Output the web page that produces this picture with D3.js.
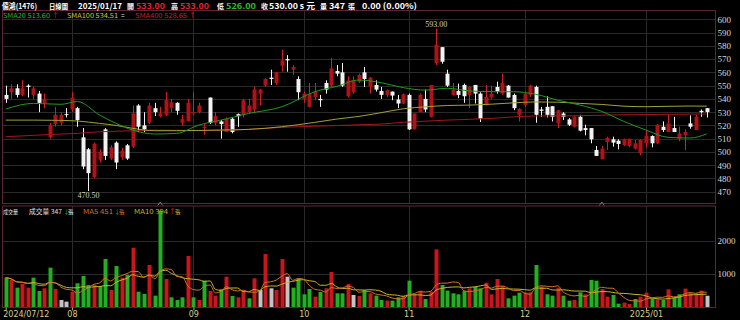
<!DOCTYPE html>
<html>
<head>
<meta charset="utf-8">
<script src="https://cdn.jsdelivr.net/npm/d3@7/dist/d3.min.js"></script>
<style>
  html, body { margin: 0; padding: 0; background: #000; }
  svg { display: block; }
  text { font-family: "Noto Sans CJK TC", "DejaVu Sans", sans-serif; }
</style>
</head>
<body>
<svg id="chart" width="740" height="320"></svg>
<script>
// daily bars, 2024/07/12 .. 2025/01/17
const opens = [543,545,548,543,550,543,544,537,511,521,522,528.5,532,533,511,502,481,494,517,495,507,496,505,504,535,520,522,533,527,528,533,537,522,523,529,530,518,541,522,523,515,525,528.5,528,530,532,544,550,556,552,565,570,562,555,540,534,541.5,540,552,550,561,560,542,545,553,560,549.5,550.5,546,543,545.5,539.5,536.5,543,517,530,540,526.5,567,579,559,543,546,550.5,543,550.5,544,535.5,541,549,544,550,543,528,535.5,543,549,532,534,534.5,521.5,529,524.5,519,526.5,518,518,501.5,494.5,507.5,509.5,508.5,505,504.5,502.5,499,506.5,512,506.5,519,515,518,510,512.5,521.5,516.5,531,533];
const highs = [550,551,551,554,551,549,546,544,522,534,530,533,545,534,518,503,507,502,518,505,508,503,506,535,536,530,537,537,534,545,540,537.5,528,540,545,537,521,541,530,524,526,526,529,540,540,549,547.5,555.5,562,560.5,577,573,565.5,557,545.5,552,552,543,554,571,565.5,567,557,557,559,564,556.5,554,549,547,545.5,543,544,544,529,544,547,550.5,593,579,562,552,551.5,551.5,549.5,550.5,545,550.5,550,553,559,550.5,544,533,545.5,550.5,550,534,542,534.5,531.5,530,525.5,527,528,520.5,518,504.5,504.5,511.5,511.5,509.5,510,510,509,509.5,516.5,512.5,521,523,528,526.5,519,517,527.5,528,532,533];
const lows = [537,540,541,542,541,540,530,533,510,519,520,526,530,519,487,470.5,480,492,494,494,487,494,494,503,515,515,521,527,526,527,530,528,520,523,528,529,513,521,520,510,515,514,519,526,529,530,535,549,550.5,550.5,560.5,560.5,558,539,537,533.5,539,534,544,549,557,549,541,544,552,549,544,545.5,540,541.5,539,533,536,516.5,517,530,530,526,565.5,566.5,549,542.5,540.5,537,533,536.5,522.5,535,540,544,543,541,531.5,523,534,541.5,522,526.5,526,523,518,524,519.5,518.5,515.5,512.5,506.5,497,494.5,501.5,504,502,504.5,503.5,502,497.5,503.5,503.5,506,515,515,515,508,501.5,517.5,516.5,526.5,526];
const closes = [540,548,543,548,549,548,537,540,520,528,528,528,541,524,489,484,506,500,497,503.5,492,501,495,529,519,517,535,530,529,539,537.5,531,525,537,530,535,519,522,527,521,525,515,527,539,535,547,547,555,555,560,569,569,564,545,544,543.5,545.5,539,547,563,559,550,554,554,558,555,556,547,543,546.5,542.5,536.5,543.5,517,529,543,532,550.5,581,568,550,547,543,542,549,544,525,541.5,544,545.5,552,541,533,532.5,544,550,528,531,528,526.5,531.5,526.5,520.5,526.5,516,516.5,509.5,497,502.5,510.5,507,506,509.5,510,506.5,509,512,506.5,520.5,516.5,521.5,515,514,515,519,526.5,530,530];
const volumes = [890,820,590,700,590,890,490,570,1190,550,220,170,470,720,940,670,670,640,1450,520,1240,890,970,1790,470,400,1270,350,2900,850,300,220,300,1540,300,220,800,490,350,540,920,340,300,470,270,870,520,1600,570,520,1450,920,590,850,390,550,320,460,570,1060,420,420,700,370,340,520,420,350,220,200,200,300,350,800,390,500,250,470,1740,670,500,420,390,490,570,620,570,740,390,850,640,270,350,440,440,450,1270,620,390,350,590,350,200,220,450,390,820,800,550,320,370,110,140,100,250,320,440,270,240,220,540,300,390,560,430,420,500,347];
const closeBefore = 542;   // previous session close (volume colour of first bar)

// moving averages at these bar numbers
const maIndex = [0,5,10,13,17,20,23,27,31,35,39,44,50,56,60,64,68,72,76,80,84,88,92,96,100,104,108,112,116,120,124,127];
const sma20  = [532.3,536.6,535.9,538,527.8,521.5,516.5,513.5,514,520.3,524,529,534,545.4,549.5,554.2,552.2,548.5,546.6,548,546,545.4,545.4,543.5,539,535.4,530.5,523,516.5,511,510.5,513.6];
const sma100 = [524,524,523.8,523.3,521.5,520,517.8,516,516,516.2,516.5,517,519,522.3,524.8,526.8,529.6,532.5,534,535,535.3,536,537,537.7,537.5,536.6,535.8,534.5,534.1,534.4,534.6,534.51];
const sma400 = [511.5,512.5,513.5,514,515.2,515.6,516,516.5,516.3,516.2,516.4,517,518.5,519.4,519.9,520.5,521,522.3,523.2,524,524.6,525.3,526.4,527.1,527.2,527.3,527.7,528,528.2,528.3,528.5,528.65];

const xTickIndex = [0,12,34,54,73,94,116];
const xTickLabels = ['2024/07/12','08','09','10','11','12','2025/01'];
const priceTicks = [470,480,490,500,510,520,530,540,550,560,570,580,590,600];
const volTicks = [1000,2000];
const markIndex = [28,108];

const N = closes.length;
const svg = d3.select('#chart');
svg.append('rect').attr('width',740).attr('height',320).attr('fill','#000');

const RED = '#c8161c', WHITE = '#f2f2f2', GREEN = '#22b022', GRAY = '#c4c4c4';
const BORDER = '#5e2634', GRID = '#2a2a2a';
const left = 2.5, right = 715.5;
const pTop = 10.5, pBot = 203.5, vTop = 206, vBot = 307.5;

const x = d3.scalePoint().domain(d3.range(N)).range([5.7, 706.7]);
const bw = x.step() * 0.72;
const y = d3.scaleLinear().domain([460, 607]).range([205, 10]);
const yv = d3.scaleLinear().domain([0, 3000]).range([307.3, 207.4]);

svg.append('clipPath').attr('id','pclip').append('rect')
  .attr('x',left).attr('y',pTop).attr('width',right-left).attr('height',pBot-pTop);
svg.append('clipPath').attr('id','vclip').append('rect')
  .attr('x',left).attr('y',vTop).attr('width',right-left).attr('height',vBot-vTop);

// grid
const grid = svg.append('g').attr('stroke',GRID).attr('stroke-width',1);
grid.selectAll('.hp').data(priceTicks).enter().append('line')
  .attr('x1',left).attr('x2',right)
  .attr('y1',d => Math.round(y(d))+0.5).attr('y2',d => Math.round(y(d))+0.5);
grid.selectAll('.hv').data(volTicks).enter().append('line')
  .attr('x1',left).attr('x2',right)
  .attr('y1',d => Math.round(yv(d))+0.5).attr('y2',d => Math.round(yv(d))+0.5);
xTickIndex.slice(1).forEach(i => {
  const gx = Math.round(x(i)) + 0.5;
  grid.append('line').attr('x1',gx).attr('x2',gx).attr('y1',pTop).attr('y2',pBot);
  grid.append('line').attr('x1',gx).attr('x2',gx).attr('y1',vTop).attr('y2',vBot);
});

// candles
const cg = svg.append('g').attr('clip-path','url(#pclip)');
const up = i => closes[i] >= opens[i];
cg.selectAll('.wick').data(d3.range(N)).enter().append('line')
  .attr('x1',i => Math.round(x(i))+0.5).attr('x2',i => Math.round(x(i))+0.5)
  .attr('y1',i => y(highs[i])).attr('y2',i => y(lows[i]))
  .attr('stroke',i => up(i) ? '#d61e22' : WHITE).attr('stroke-width',1);
cg.selectAll('.body').data(d3.range(N)).enter().append('rect')
  .attr('x',i => Math.round(x(i)) + 0.5 - bw/2)
  .attr('width',bw)
  .attr('y',i => y(Math.max(opens[i],closes[i])))
  .attr('height',i => Math.max(1, Math.abs(y(opens[i]) - y(closes[i]))))
  .attr('fill',i => up(i) ? '#b01217' : WHITE);

// price moving averages
const maLine = vals => d3.line()
  .x((d,k) => x(maIndex[k])).y(d => y(d)).curve(d3.curveMonotoneX)(vals);
[[sma400,'#a3161c'],[sma100,'#a2a236'],[sma20,'#1f9a1f']].forEach(([vals,col]) => {
  cg.append('path').attr('d',maLine(vals)).attr('fill','none')
    .attr('stroke',col).attr('stroke-width',1);
});

// high / low labels
const hiIdx = d3.maxIndex(highs), loIdx = d3.minIndex(lows);
svg.append('text').attr('x',x(hiIdx)).attr('y',y(highs[hiIdx]) - 2)
  .attr('text-anchor','middle').attr('fill','#d0d0d0')
  .style('font-family','"Liberation Serif", serif').style('font-size','8px')
  .text(highs[hiIdx].toFixed(2));
svg.append('text').attr('x',x(loIdx)).attr('y',y(lows[loIdx]) + 7)
  .attr('text-anchor','middle').attr('fill','#d0d0d0')
  .style('font-family','"Liberation Serif", serif').style('font-size','8px')
  .text(lows[loIdx].toFixed(2));

// volume
const vg = svg.append('g').attr('clip-path','url(#vclip)');
const volColor = i => {
  const prev = i === 0 ? closeBefore : closes[i-1];
  return closes[i] > prev ? RED : closes[i] < prev ? GREEN : GRAY;
};
vg.selectAll('.vol').data(d3.range(N)).enter().append('rect')
  .attr('x',i => Math.round(x(i)) + 0.5 - bw/2)
  .attr('width',bw)
  .attr('y',i => yv(volumes[i]))
  .attr('height',i => yv(0) - yv(volumes[i]))
  .attr('fill',volColor);

const volMA = n => volumes.map((v,i) => d3.mean(volumes.slice(Math.max(0,i-n+1), i+1)));
[[volMA(10),'#c9b52a'],[volMA(5),'#d0742c']].forEach(([vals,col]) => {
  vg.append('path')
    .attr('d', d3.line().x((d,i) => x(i)).y(d => yv(d)).curve(d3.curveMonotoneX)(vals))
    .attr('fill','none').attr('stroke',col).attr('stroke-width',1);
});

// panel frames
[[pTop,pBot],[vTop,vBot]].forEach(([t,b]) => {
  svg.append('rect').attr('x',left).attr('y',t).attr('width',right-left).attr('height',b-t)
    .attr('fill','none').attr('stroke',BORDER).attr('stroke-width',1);
});

// markers
markIndex.forEach(i => {
  svg.append('path').attr('d',`M${x(i)-2.5},${vTop-0.5} L${x(i)},${vTop-4} L${x(i)+2.5},${vTop-0.5}`)
    .attr('fill','none').attr('stroke','#8a8a8a').attr('stroke-width',0.8);
});

// right axes
const pAxis = svg.append('g').attr('transform',`translate(${right+1},0)`)
  .call(d3.axisRight(y).tickValues(priceTicks).tickSize(0).tickPadding(1).tickFormat(d3.format('d')));
const vAxis = svg.append('g').attr('transform',`translate(${right+1},0)`)
  .call(d3.axisRight(yv).tickValues(volTicks).tickSize(0).tickPadding(1).tickFormat(d3.format('d')));
[pAxis, vAxis].forEach(a => {
  a.select('.domain').remove();
  a.selectAll('text').attr('fill','#d8d8d8')
    .style('font-family','"Liberation Serif", serif').style('font-size','9px');
});

// bottom axis
const xAxis = svg.append('g').attr('transform',`translate(0,${vBot})`)
  .call(d3.axisBottom(x).tickValues(xTickIndex).tickSize(3).tickPadding(1)
    .tickFormat(i => xTickLabels[xTickIndex.indexOf(i)]));
xAxis.select('.domain').remove();
xAxis.selectAll('line').attr('stroke','#b8ae7a');
xAxis.selectAll('text').attr('fill','#d6cc98').style('font-size','8px')
  .style('font-family','"DejaVu Sans", sans-serif');
xAxis.selectAll('.tick').filter(i => i === 0).select('text')
  .attr('text-anchor','start').attr('dx',-3);

// texts
function put(px, py, str, col, size, weight, width) {
  const t = svg.append('text').attr('x',px).attr('y',py).attr('fill',col)
    .style('font-size',size + 'px').style('font-weight',weight || 'normal').text(str);
  if (width) t.attr('textLength',width).attr('lengthAdjust','spacingAndGlyphs');
  return t;
}
const HY = 8.6;
put(2, HY, '儒鴻(1476)', '#ffffff', 7.5, 'bold', 35);
put(49, HY, '日線圖', '#ffffff', 7, 'bold', 19);
put(78, HY, '2025/01/17', '#ffffff', 8, 'bold', 44);
put(127, HY, '開', '#ffffff', 7, 'bold');
put(136, HY, '533.00', '#e8242a', 8, 'bold', 29);
put(171, HY, '高', '#ffffff', 7, 'bold');
put(180, HY, '533.00', '#e8242a', 8, 'bold', 29);
put(217, HY, '低', '#ffffff', 7, 'bold');
put(226, HY, '526.00', '#2cc22c', 8, 'bold', 30);
put(261, HY, '收', '#ffffff', 7, 'bold');
put(269, HY, '530.00 s 元', '#ffffff', 8, 'bold', 46);
put(320, HY, '量', '#ffffff', 7, 'bold');
put(329, HY, '347', '#ffffff', 8, 'bold', 16);
put(348, HY, '張', '#ffffff', 7, 'bold');
put(362, HY, '0.00 (0.00%)', '#ffffff', 8, 'bold', 55);

const LY = 18;
put(3, LY, 'SMA20 513.60', '#22b822', 6.5, 'normal', 47);
put(52, LY, '↑', '#e02020', 6.5);
put(67, LY, 'SMA100 534.51', '#c8c83a', 6.5, 'normal', 51);
put(121, LY, '=', '#e0e0e0', 6.5);
put(135, LY, 'SMA400 528.65', '#d21c22', 6.5, 'normal', 52);
put(189, LY, '↑', '#e02020', 6.5);

const VY = 214;
put(3, VY, '成交量', '#e0e0e0', 5.5, 'normal', 15);
put(29, VY, '成交量 347', '#e0e0e0', 6.5, 'normal', 33);
put(63, VY, '↓', '#22b822', 6.5);
put(68, VY, '張', '#e0e0e0', 5.5);
put(83, VY, 'MA5 451', '#d0742c', 6.5, 'normal', 30);
put(114, VY, '↓', '#22b822', 6.5);
put(119, VY, '張', '#d0742c', 5.5);
put(134, VY, 'MA10 394', '#c9b52a', 6.5, 'normal', 34);
put(169, VY, '↑', '#e02020', 6.5);
put(175, VY, '張', '#c9b52a', 5.5);
</script>
</body>
</html>
